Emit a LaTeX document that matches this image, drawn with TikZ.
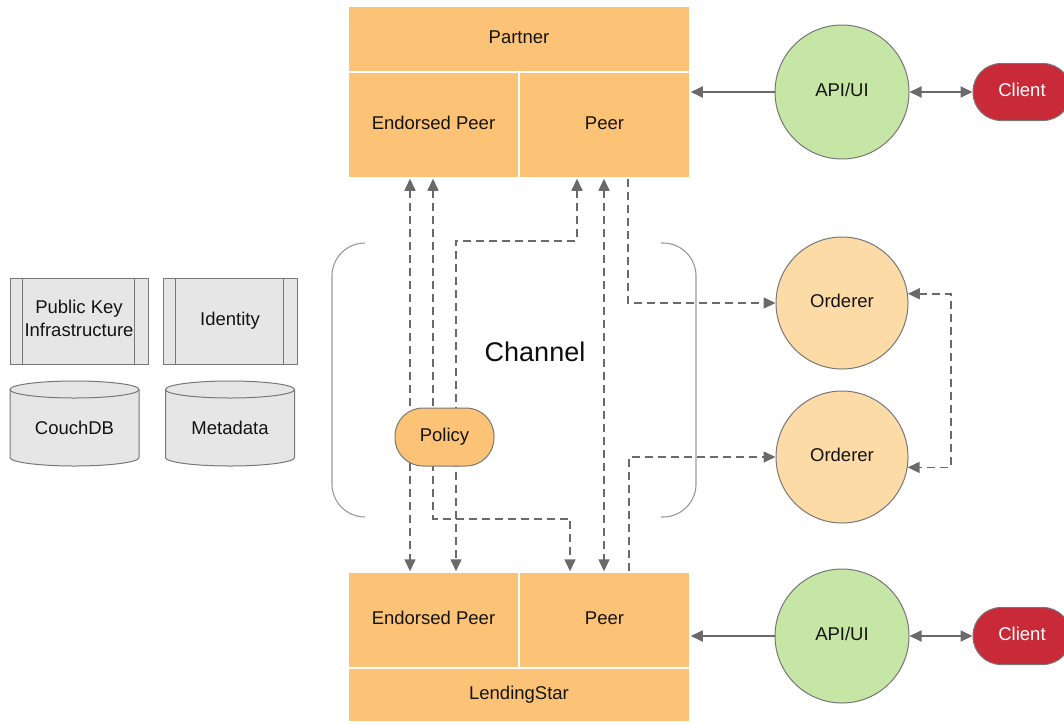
\documentclass[tikz,border=0pt]{standalone}
\usepackage{fontspec}
\setmainfont{Liberation Sans}
\usetikzlibrary{arrows.meta}

\definecolor{blockor}{HTML}{FCC275}
\definecolor{ordfill}{HTML}{FDDBA7}
\definecolor{apigreen}{HTML}{C5E6A4}
\definecolor{clientred}{HTML}{C92A38}
\definecolor{boxgray}{HTML}{E6E6E6}
\definecolor{edgegray}{HTML}{777777}
\definecolor{linkgray}{HTML}{6A6A6A}
\definecolor{bracegray}{HTML}{999999}

\tikzset{
  lbl/.style={font=\fontsize{18.5}{21}\selectfont, text=black!92, text height=13.5pt, text depth=4.5pt},
  cell/.style={lbl, rectangle, fill=blockor, draw=white, line width=1.5pt, inner sep=0pt},
  roundnode/.style={lbl, circle, draw=edgegray, line width=1pt, minimum size=134pt, inner sep=0pt},
  pill/.style={lbl, rectangle, rounded corners=28pt, draw=edgegray, line width=1pt, inner sep=0pt},
  sidebox/.style={lbl, rectangle, fill=boxgray, draw=edgegray, line width=1pt, inner sep=0pt, minimum width=#1, minimum height=86pt},
  dsh/.style={draw=linkgray, line width=1.6pt, dash pattern=on 8pt off 5pt},
  sol/.style={draw=linkgray, line width=1.8pt},
  brace/.style={draw=bracegray, line width=1.1pt, rounded corners=33pt},
}

\begin{document}
\begin{tikzpicture}[x=1pt,y=-1pt, >={Triangle[length=12pt,width=11pt]}]
\useasboundingbox (0,0) rectangle (1064,723);
\clip (0,0) rectangle (1064,723);

% Partner organisation (top)
\node[cell, minimum width=342pt, minimum height=66pt] (partner) at (519,39) {Partner};
\node[cell, minimum width=171pt, minimum height=106pt] (endtop) at (433.5,125) {Endorsed Peer};
\node[cell, minimum width=171pt, minimum height=106pt] (peertop) at (604.5,125) {Peer};

% LendingStar organisation (bottom)
\node[cell, minimum width=171pt, minimum height=96pt] (endbot) at (433.5,620) {Endorsed Peer};
\node[cell, minimum width=171pt, minimum height=96pt] (peerbot) at (604.5,620) {Peer};
\node[cell, minimum width=342pt, minimum height=54pt] (lending) at (519,695) {LendingStar};

% Front ends and clients
\node[roundnode, fill=apigreen] (api1) at (842,92) {API/UI};
\node[roundnode, fill=apigreen] (api2) at (842,636) {API/UI};
\node[pill, fill=clientred, text=white, minimum width=98pt, minimum height=57pt] (client1) at (1022,92) {Client};
\node[pill, fill=clientred, text=white, minimum width=98pt, minimum height=57pt] (client2) at (1022,636) {Client};

% Ordering service
\node[roundnode, fill=ordfill, minimum size=132pt] (ord1) at (842,303) {Orderer};
\node[roundnode, fill=ordfill, minimum size=132pt] (ord2) at (842,457) {Orderer};

% Channel braces
\draw[brace] (365,243) -- (332,243) -- (332,517) -- (365,517);
\draw[brace] (661,243) -- (696,243) -- (696,517) -- (661,517);
\node[font=\fontsize{27}{30}\selectfont, text=black!95] (channel) at (535,352) {Channel};

% Membership services
\node[sidebox=138pt] (pki) at (79,321) {};
\node[font=\fontsize{18.5}{23}\selectfont, text=black!92, align=center] (pkitext) at (79,318) {Public Key\\Infrastructure};
\node[sidebox=134pt] (ident) at (230,321) {Identity};
\foreach \b in {pki,ident}{
  \draw[draw=edgegray, line width=1pt] ([xshift=13pt]\b.north west) -- ([xshift=13pt]\b.south west);
  \draw[draw=edgegray, line width=1pt] ([xshift=-14pt]\b.north east) -- ([xshift=-14pt]\b.south east);
}

% Storage cylinders
\foreach \cx/\nm/\txt in {74.5/couch/CouchDB, 230/meta/Metadata}{
  \filldraw[fill=boxgray, draw=edgegray, line width=1pt]
    (\cx-64.5,389.5) -- (\cx-64.5,457.5) arc (180:0:64.5 and 8.5)
    -- (\cx+64.5,389.5) arc (0:-180:64.5 and 8.5) -- cycle;
  \draw[draw=edgegray, line width=1pt] (\cx-64.5,389.5) arc (180:0:64.5 and 8.5);
  \node[lbl] (\nm) at (\cx,430) {\txt};
}

% Solid links
\draw[sol, ->] (api1.west) -- (api1.west -| peertop.east);
\draw[sol, ->] (api2.west) -- (api2.west -| peerbot.east);
\draw[sol, <->] (api1.east) -- (client1.west);
\draw[sol, <->] (api2.east) -- (client2.west);

% Dashed transaction flows
\draw[dsh, <->] ([xshift=-23.5pt]endtop.south) -- ([xshift=-23.5pt]endbot.north);
\draw[dsh, <->] ([xshift=-0.5pt]endtop.south) -- ++(0,340) -| ([xshift=-34.5pt]peerbot.north);
\draw[dsh, <->] ([xshift=-27.5pt]peertop.south) -- ++(0,62) -| ([xshift=22.5pt]endbot.north);
\draw[dsh, <->] ([xshift=-0.5pt]peertop.south) -- ([xshift=-0.5pt]peerbot.north);
\draw[dsh, ->] ([xshift=23.5pt]peertop.south) |- (ord1.west);
\draw[dsh, ->] ([xshift=24.5pt]peerbot.north) |- (ord2.west);
\draw[dsh, <->] (ord1.8) -- ++(43,0) |- (ord2.-9);

% Endorsement policy
\node[pill, fill=blockor, minimum width=99pt, minimum height=58pt] (policy) at (444.5,437) {Policy};
\end{tikzpicture}
\end{document}
